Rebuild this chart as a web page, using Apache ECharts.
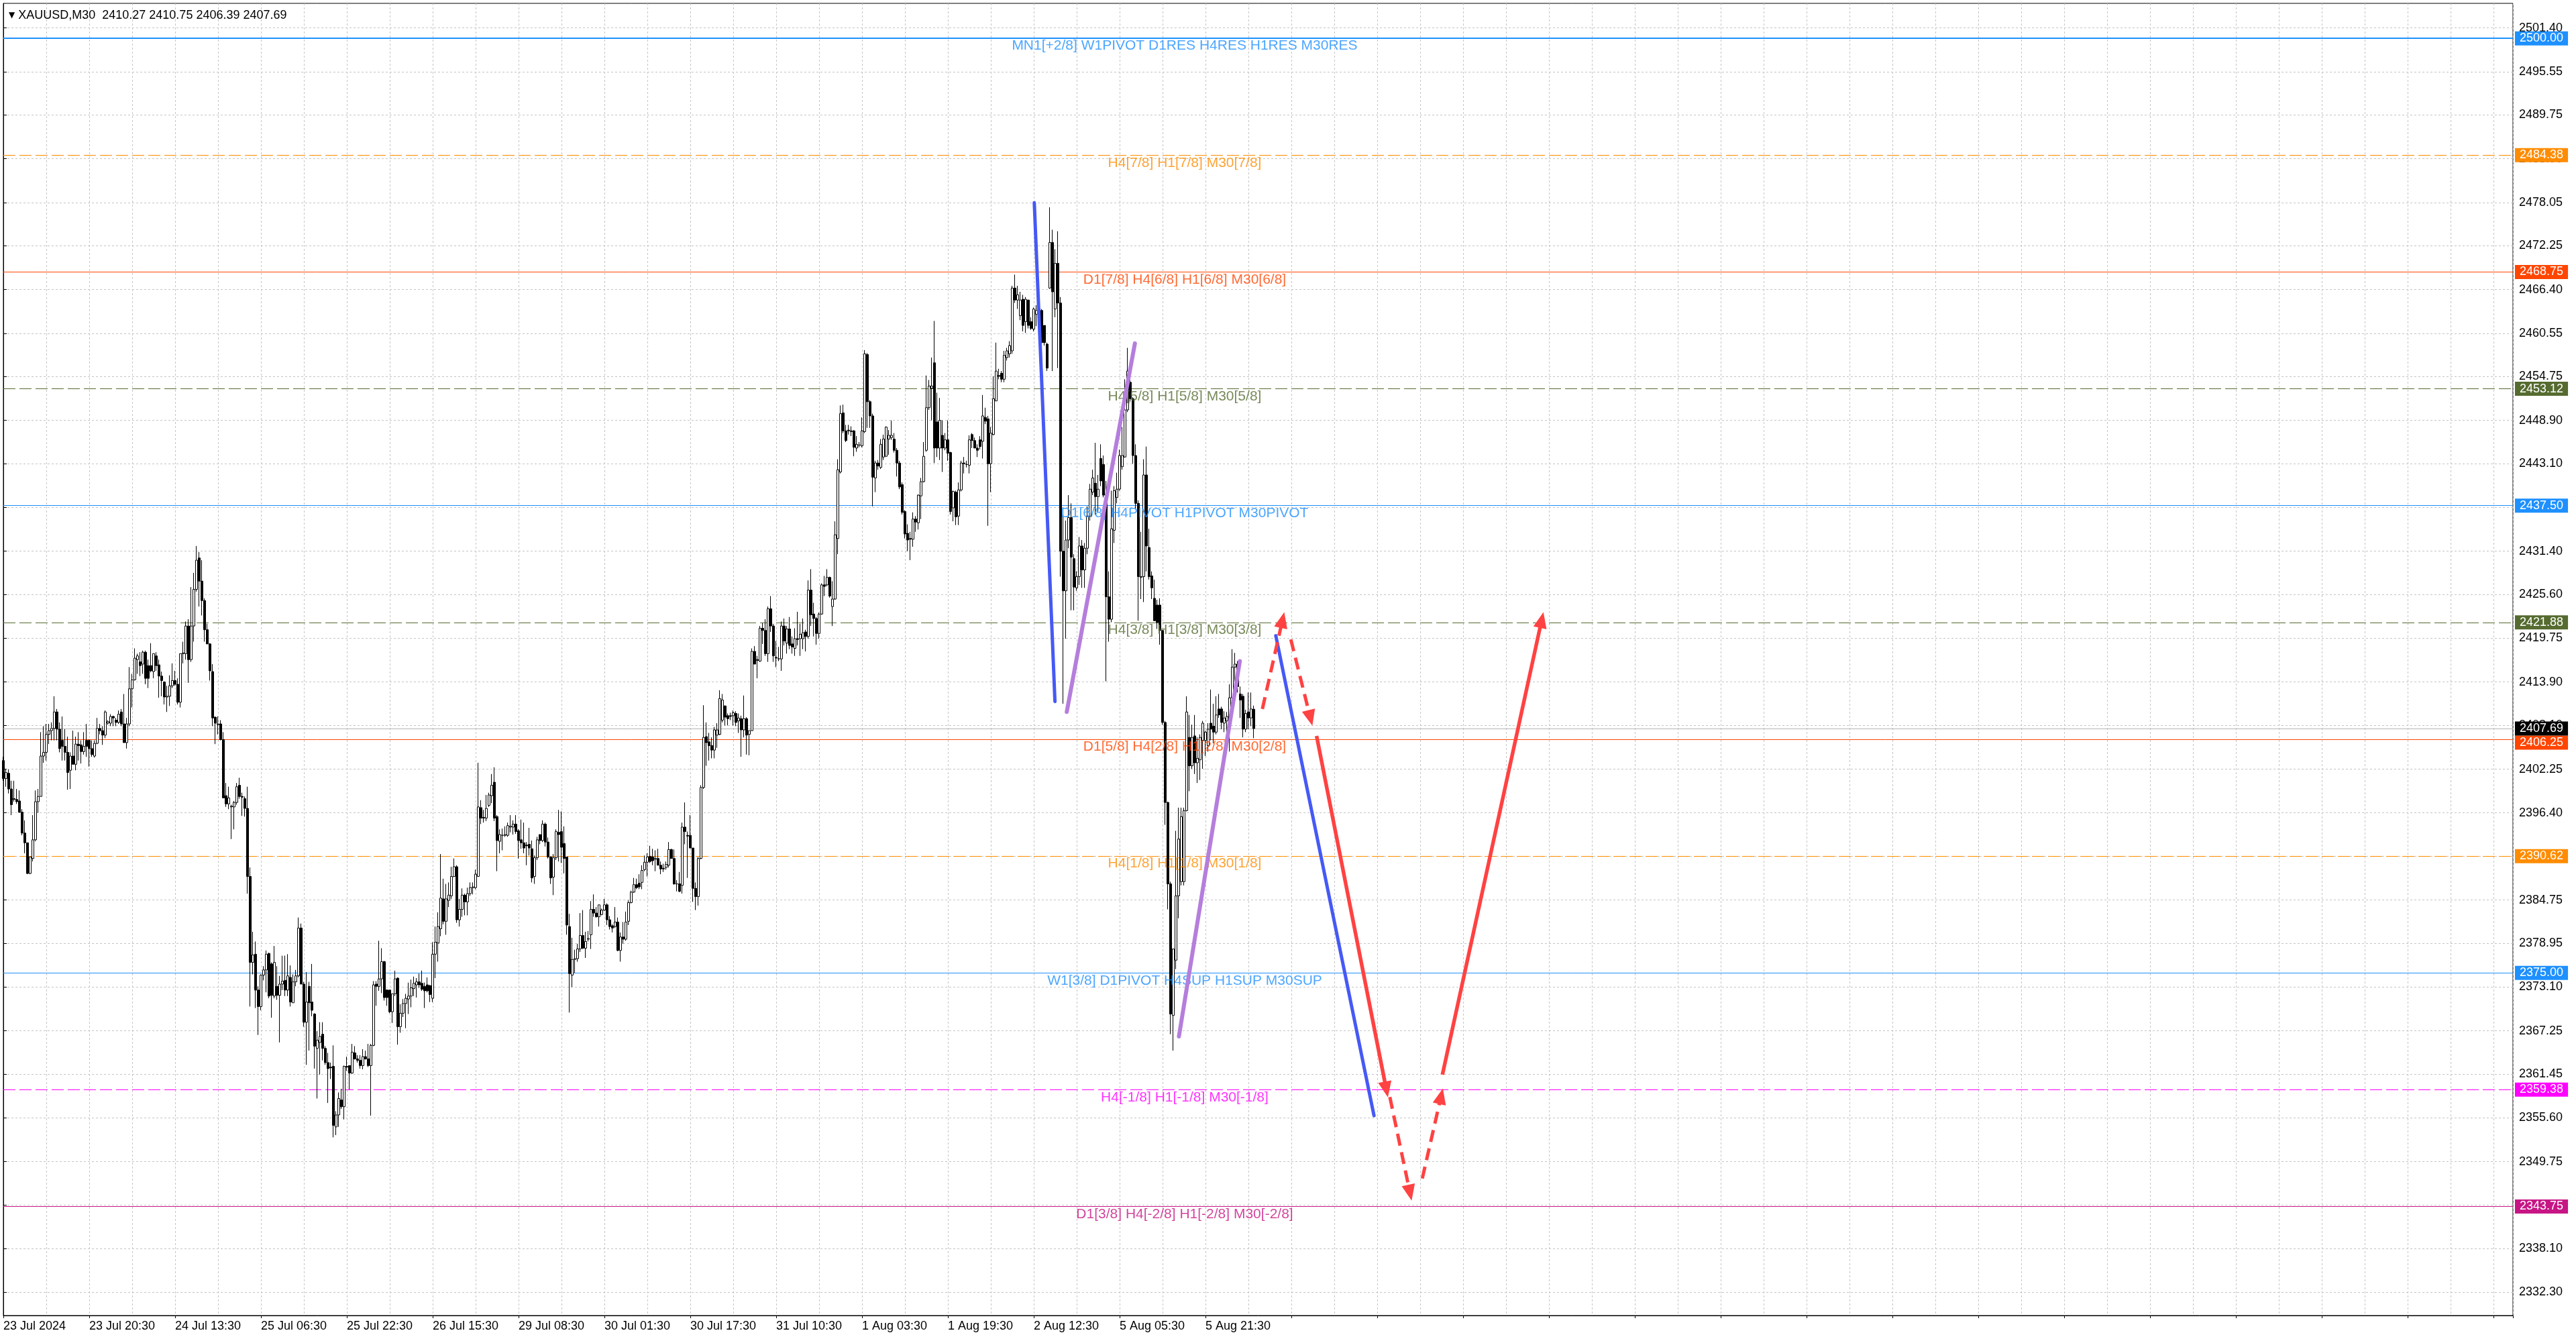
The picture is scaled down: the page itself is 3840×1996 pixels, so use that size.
<!DOCTYPE html>
<html>
<head>
<meta charset="utf-8">
<title>XAUUSD,M30</title>
<script src="https://cdn.jsdelivr.net/npm/echarts@6/dist/echarts.min.js"></script>
<style>
  html, body { margin: 0; padding: 0; background: #fff; }
  #chart { width: 3840px; height: 1996px; }
</style>
</head>
<body>
<div id="chart"></div>
<script>
// ---- data (30 min bars, index 0 = 23 Jul) ----
const symbolName = 'XAUUSD,M30';

const opens = [
  2403.4, 2401.0, 2401.7, 2399.6, 2398.3, 2398.2, 2398.0, 2396.5, 2393.7, 2392.4,
  2388.3, 2390.3, 2392.8, 2397.9, 2398.6, 2404.0, 2404.5, 2406.9, 2407.4, 2407.7,
  2409.9, 2407.6, 2406.1, 2405.3, 2404.5, 2402.1, 2404.0, 2402.9, 2405.6, 2405.5,
  2404.6, 2406.1, 2406.1, 2405.0, 2404.0, 2405.7, 2407.7, 2407.4, 2406.8, 2408.4,
  2408.4, 2409.3, 2408.8, 2408.5, 2409.9, 2408.3, 2405.8, 2408.3, 2413.0, 2414.2,
  2416.9, 2416.6, 2416.3, 2417.9, 2416.1, 2416.1, 2415.3, 2417.4, 2416.2, 2414.7,
  2413.9, 2411.9, 2412.0, 2413.4, 2414.1, 2413.6, 2411.2, 2417.7, 2417.7, 2421.4,
  2416.9, 2421.4, 2426.3, 2430.5, 2427.4, 2424.8, 2420.9, 2419.0, 2415.3, 2409.2,
  2408.2, 2408.3, 2406.2, 2398.7, 2397.6, 2397.2, 2397.2, 2397.8, 2400.1, 2398.6,
  2398.3, 2397.0, 2387.9, 2376.4, 2377.5, 2372.7, 2370.5, 2374.7, 2375.4, 2377.6,
  2376.2, 2371.9, 2373.2, 2372.0, 2373.5, 2374.0, 2372.7, 2374.4, 2371.0, 2373.8,
  2374.6, 2381.0, 2373.5, 2368.4, 2373.2, 2371.1, 2369.5, 2364.9, 2365.7, 2366.8,
  2364.9, 2363.0, 2362.4, 2362.5, 2354.4, 2356.0, 2358.0, 2357.1, 2362.5,
  2362.6, 2361.6, 2364.3, 2363.5, 2363.3, 2362.6, 2363.8, 2363.5, 2362.6, 2365.3,
  2373.5, 2373.2, 2374.2, 2376.5, 2372.7, 2372.7, 2369.8, 2372.2, 2374.3, 2367.8,
  2369.6, 2370.9, 2371.5, 2371.9, 2372.9, 2373.4, 2373.8, 2373.6, 2373.2, 2373.4,
  2373.3, 2371.6, 2377.5, 2379.0, 2380.9, 2384.9, 2381.9, 2384.7, 2385.3, 2387.9,
  2389.2, 2382.1, 2383.5, 2385.4, 2384.5, 2385.6, 2386.4, 2386.4, 2387.9, 2397.1,
  2395.8, 2395.7, 2397.4, 2398.7, 2400.5, 2395.9, 2392.6, 2393.4, 2393.4, 2393.4,
  2394.5, 2394.5, 2394.9, 2394.0, 2392.8, 2392.4, 2392.1, 2392.2, 2391.6, 2387.9,
  2390.4, 2393.5, 2392.7, 2394.9, 2392.5, 2390.5, 2387.8, 2390.4, 2393.8, 2393.9,
  2392.3, 2390.5, 2381.2, 2374.7, 2376.8, 2376.9, 2378.2, 2380.0, 2378.3, 2379.5,
  2380.1, 2383.5, 2383.0, 2382.5, 2382.8, 2383.4, 2384.1, 2382.1, 2381.3, 2381.2,
  2381.8, 2378.0, 2379.8, 2379.5, 2381.9, 2384.4, 2385.8, 2386.8, 2387.0, 2387.1,
  2388.8, 2389.8, 2390.6, 2390.5, 2390.2, 2390.3, 2389.4,
  2389.0, 2389.1, 2389.4, 2391.5, 2390.3, 2386.9, 2386.9, 2386.7, 2394.5, 2393.4,
  2393.4, 2391.7, 2386.3, 2385.2, 2390.3, 2399.8, 2406.6, 2405.9, 2405.4, 2404.8,
  2406.8, 2406.9, 2408.8, 2410.7, 2409.4, 2409.4, 2409.4, 2409.7, 2408.7, 2409.0,
  2407.5, 2409.0, 2406.9, 2407.4, 2418.0, 2416.9, 2416.7, 2421.1, 2420.8, 2417.7,
  2423.7, 2421.4, 2417.2, 2417.0, 2417.0, 2421.4, 2419.1, 2421.0, 2419.0, 2418.4,
  2419.7, 2419.7, 2419.7, 2420.6, 2420.0, 2426.2, 2423.0, 2422.4, 2420.4, 2423.0,
  2426.9, 2426.9, 2427.9, 2424.0, 2425.0, 2433.1, 2442.0, 2449.9, 2447.5, 2447.6,
  2447.5, 2447.5, 2445.2, 2445.6, 2445.5, 2447.4, 2457.7, 2451.4, 2449.5, 2441.2,
  2443.2, 2442.6, 2444.0, 2444.1, 2446.4, 2446.6, 2446.4, 2444.9, 2443.2, 2440.3,
  2436.7, 2433.8, 2433.1, 2433.0, 2435.7, 2435.2, 2438.8, 2440.7, 2444.9, 2450.6,
  2453.2, 2456.6, 2448.7, 2445.2, 2446.9, 2445.2, 2446.3, 2444.6, 2437.2, 2439.3,
  2436.1, 2439.6, 2443.2, 2443.0, 2442.9, 2447.0, 2446.2, 2445.2,
  2446.3, 2446.1, 2449.3, 2449.1, 2443.1, 2447.0, 2451.5, 2454.9, 2455.2, 2454.4,
  2457.3, 2457.8, 2458.2, 2466.6, 2465.0, 2462.9, 2465.1, 2462.1, 2465.0, 2462.1,
  2461.1, 2463.1, 2463.8, 2463.6, 2461.6, 2459.1, 2466.6, 2472.7, 2463.8, 2469.9,
  2464.6, 2431.4, 2426.1, 2432.9, 2435.9, 2430.4, 2426.5, 2428.0, 2432.1, 2428.9,
  2431.8, 2436.1, 2439.3, 2440.5, 2438.7, 2443.8, 2443.0, 2438.9, 2425.3, 2422.3,
  2434.2, 2438.6, 2439.7, 2442.7, 2444.0, 2450.3, 2454.0, 2451.8, 2444.2, 2437.8,
  2427.9, 2428.0, 2441.6, 2431.9, 2428.1, 2425.1, 2424.2, 2424.2, 2420.8, 2408.5,
  2397.8, 2386.9, 2369.3, 2376.7, 2385.3, 2387.2, 2387.2, 2396.7, 2406.5, 2402.7,
  2406.7, 2403.1, 2403.5, 2406.1, 2406.1, 2405.4, 2408.4, 2408.0, 2407.2, 2410.3,
  2410.3, 2408.4, 2408.7, 2408.7, 2411.8, 2415.9, 2416.3, 2412.3, 2412.0, 2407.6,
  2409.9, 2409.1, 2410.27
];

const highs = [
  2403.9, 2402.3, 2402.2, 2400.7, 2400.7, 2399.6, 2399.4, 2396.9, 2395.4, 2392.4,
  2390.5, 2396.1, 2399.4, 2399.6, 2407.2, 2408.0, 2408.3, 2408.3, 2408.5, 2412.0,
  2410.3, 2408.5, 2409.3, 2407.6, 2406.6, 2404.5, 2407.4, 2406.6, 2407.2, 2406.1,
  2407.2, 2408.3, 2406.2, 2406.1, 2406.1, 2409.1, 2408.3, 2408.0, 2410.1, 2408.8,
  2409.6, 2409.4, 2409.1, 2410.1, 2410.3, 2412.3, 2409.1, 2415.9, 2415.0, 2418.4,
  2417.7, 2417.9, 2418.1, 2418.1, 2416.9, 2419.1, 2417.7, 2417.9, 2416.9, 2415.3,
  2414.0, 2413.4, 2414.8, 2416.4, 2415.4, 2414.4, 2417.7, 2419.3, 2422.0, 2422.3,
  2426.6, 2428.5, 2432.1, 2431.3, 2430.2, 2425.1, 2421.7, 2419.1, 2416.3, 2409.3,
  2409.3, 2408.8, 2407.2, 2400.4, 2399.9, 2397.5, 2398.0, 2400.4, 2401.1, 2399.1,
  2398.6, 2399.9, 2389.1, 2380.5, 2379.2, 2373.2, 2374.8, 2375.9, 2378.0, 2377.7,
  2376.4, 2378.6, 2375.9, 2374.6, 2377.3, 2377.3, 2377.5, 2376.0, 2374.8, 2375.4,
  2382.4, 2381.6, 2373.8, 2375.1, 2373.8, 2376.2, 2369.6, 2367.2, 2368.4, 2368.4,
  2365.2, 2364.3, 2363.0, 2365.3, 2356.5, 2359.0, 2359.5, 2362.6, 2363.8,
  2362.6, 2365.5, 2365.2, 2364.0, 2364.0, 2364.8, 2364.6, 2365.5, 2365.5, 2373.9,
  2373.9, 2379.3, 2378.3, 2376.6, 2372.8, 2372.7, 2372.2, 2375.3, 2374.4, 2370.8,
  2371.5, 2372.2, 2373.7, 2374.1, 2374.5, 2374.3, 2374.9, 2375.3, 2373.7, 2374.4,
  2373.4, 2379.1, 2381.2, 2383.1, 2390.9, 2387.6, 2386.9, 2387.1, 2389.2, 2390.3,
  2389.4, 2384.9, 2386.3, 2385.6, 2386.4, 2387.1, 2387.1, 2388.8, 2403.1, 2398.1,
  2396.8, 2398.8, 2399.1, 2401.6, 2402.5, 2396.1, 2394.2, 2394.3, 2394.6, 2395.1,
  2396.1, 2395.4, 2396.1, 2394.2, 2395.5, 2395.1, 2392.5, 2394.4, 2392.7, 2390.7,
  2393.2, 2393.5, 2395.4, 2395.1, 2393.1, 2390.6, 2390.9, 2394.2, 2396.8, 2396.6,
  2394.6, 2390.5, 2382.9, 2379.7, 2378.1, 2378.9, 2383.0, 2383.4, 2380.5, 2380.6,
  2384.6, 2385.5, 2383.8, 2384.1, 2383.6, 2384.9, 2384.3, 2382.6, 2381.5, 2383.8,
  2382.4, 2380.4, 2381.8, 2383.2, 2384.7, 2386.0, 2387.7, 2387.6, 2388.2, 2389.4,
  2390.7, 2391.0, 2392.0, 2391.6, 2391.4, 2391.6, 2389.9,
  2389.6, 2389.9, 2392.5, 2391.6, 2391.5, 2387.4, 2388.5, 2395.1, 2397.8, 2393.9,
  2396.1, 2391.7, 2387.1, 2390.5, 2400.1, 2410.8, 2408.5, 2407.1, 2406.5, 2407.9,
  2408.4, 2412.8, 2412.3, 2410.8, 2409.7, 2409.8, 2410.1, 2410.0, 2409.7, 2409.4,
  2412.1, 2409.2, 2407.4, 2418.4, 2418.7, 2417.4, 2421.4, 2421.8, 2422.3, 2424.0,
  2425.4, 2421.7, 2419.4, 2418.6, 2422.0, 2422.4, 2421.4, 2422.6, 2420.0, 2421.1,
  2423.3, 2421.7, 2422.4, 2420.9, 2427.5, 2429.0, 2424.5, 2422.6, 2423.2, 2427.1,
  2428.1, 2429.0, 2428.0, 2427.4, 2435.4, 2443.7, 2450.9, 2451.0, 2448.3, 2448.3,
  2448.1, 2447.6, 2446.8, 2446.0, 2449.3, 2458.3, 2457.9, 2451.6, 2449.8, 2443.5,
  2443.6, 2446.4, 2447.0, 2448.1, 2447.6, 2448.9, 2447.2, 2445.2, 2443.5, 2440.6,
  2436.9, 2435.0, 2434.0, 2436.6, 2436.1, 2439.0, 2441.2, 2446.0, 2454.9, 2454.3,
  2457.3, 2462.2, 2452.6, 2451.9, 2448.9, 2447.2, 2448.9, 2444.7, 2439.5, 2439.5,
  2440.6, 2443.5, 2444.0, 2443.5, 2446.9, 2447.2, 2446.6, 2445.7,
  2446.8, 2452.3, 2450.6, 2449.5, 2448.0, 2454.8, 2459.3, 2455.8, 2455.5, 2458.2,
  2458.6, 2459.5, 2466.9, 2468.4, 2466.9, 2466.1, 2465.7, 2465.4, 2465.0, 2462.7,
  2464.0, 2464.3, 2464.2, 2463.8, 2461.6, 2459.3, 2477.4, 2474.4, 2471.8, 2474.2,
  2465.4, 2436.3, 2435.5, 2438.9, 2437.8, 2431.0, 2428.7, 2433.3, 2432.9, 2432.5,
  2437.4, 2440.4, 2442.3, 2445.9, 2441.6, 2445.7, 2444.2, 2440.8, 2428.7, 2439.5,
  2440.1, 2441.9, 2445.0, 2448.0, 2454.4, 2458.6, 2454.8, 2452.0, 2445.7, 2438.2,
  2434.0, 2443.7, 2445.4, 2434.4, 2428.7, 2427.6, 2424.9, 2425.1, 2420.8, 2408.7,
  2397.9, 2387.2, 2378.2, 2394.0, 2397.1, 2397.1, 2397.1, 2412.0, 2409.5, 2408.2,
  2409.5, 2406.5, 2406.9, 2408.7, 2407.4, 2408.4, 2412.9, 2411.0, 2412.0, 2412.3,
  2410.6, 2410.0, 2409.9, 2413.6, 2418.3, 2417.8, 2416.7, 2413.3, 2412.3, 2410.2,
  2412.5, 2412.5, 2410.75
];

const lows = [
  2400.7, 2399.9, 2399.0, 2396.1, 2397.9, 2397.6, 2396.4, 2393.4, 2391.0, 2388.2,
  2388.2, 2389.9, 2392.6, 2396.4, 2398.6, 2403.1, 2403.4, 2405.6, 2406.1, 2406.1,
  2406.1, 2404.5, 2403.4, 2403.4, 2399.5, 2399.6, 2402.9, 2402.1, 2403.4, 2403.0,
  2404.2, 2403.9, 2402.6, 2403.9, 2403.8, 2405.6, 2406.9, 2405.5, 2406.4, 2408.2,
  2408.0, 2408.0, 2408.0, 2408.3, 2408.0, 2405.8, 2405.0, 2408.0, 2410.5, 2414.1,
  2415.0, 2414.7, 2415.0, 2413.6, 2413.1, 2415.2, 2414.4, 2415.4, 2411.8, 2412.0,
  2410.9, 2409.9, 2410.7, 2413.1, 2413.4, 2410.9, 2410.5, 2416.4, 2416.9, 2413.8,
  2416.6, 2419.3, 2426.0, 2424.0, 2422.8, 2419.3, 2419.0, 2414.1, 2408.0, 2405.6,
  2406.9, 2406.1, 2398.4, 2397.2, 2396.9, 2392.9, 2394.2, 2397.5, 2398.3, 2396.0,
  2395.9, 2385.6, 2370.5, 2374.8, 2370.3, 2366.7, 2370.0, 2374.0, 2372.4, 2371.6,
  2369.0, 2371.6, 2371.4, 2365.7, 2372.7, 2371.9, 2371.9, 2370.5, 2371.0, 2373.2,
  2374.4, 2373.5, 2367.8, 2362.7, 2364.6, 2369.2, 2362.2, 2358.2, 2361.4, 2363.3,
  2362.7, 2357.6, 2360.8, 2353.0, 2353.3, 2354.4, 2356.8, 2355.4, 2361.9,
  2359.4, 2361.5, 2363.4, 2363.0, 2362.2, 2362.1, 2363.4, 2362.4, 2355.9, 2365.2,
  2370.6, 2372.6, 2372.3, 2371.3, 2370.6, 2369.6, 2368.3, 2371.9, 2365.4, 2367.0,
  2369.1, 2367.6, 2369.5, 2370.4, 2371.9, 2371.7, 2373.0, 2372.6, 2370.3, 2372.4,
  2371.1, 2371.1, 2374.3, 2376.5, 2379.9, 2381.5, 2380.1, 2383.8, 2384.9, 2387.8,
  2381.7, 2381.2, 2382.5, 2382.7, 2382.7, 2385.3, 2385.5, 2386.2, 2387.9, 2394.9,
  2395.1, 2395.3, 2397.2, 2397.7, 2395.3, 2388.6, 2391.0, 2391.4, 2393.2, 2393.2,
  2393.8, 2393.5, 2393.6, 2390.3, 2391.6, 2391.0, 2389.4, 2390.7, 2387.1, 2386.9,
  2390.1, 2392.2, 2392.5, 2391.9, 2390.3, 2386.9, 2385.4, 2390.1, 2389.9, 2389.7,
  2388.3, 2380.1, 2369.7, 2373.1, 2375.0, 2376.5, 2377.8, 2378.2, 2377.0, 2379.2,
  2378.2, 2382.5, 2382.4, 2381.2, 2382.7, 2383.3, 2381.4, 2380.8, 2380.4, 2381.0,
  2377.9, 2376.5, 2378.9, 2379.3, 2381.4, 2384.3, 2385.7, 2386.2, 2386.2, 2386.2,
  2388.6, 2387.9, 2389.7, 2389.4, 2388.6, 2389.4, 2388.2,
  2388.5, 2388.8, 2389.1, 2390.3, 2386.8, 2385.9, 2385.8, 2385.6, 2392.2, 2387.7,
  2391.7, 2384.5, 2383.4, 2384.0, 2390.2, 2399.6, 2402.7, 2403.4, 2403.7, 2403.7,
  2405.1, 2406.8, 2408.5, 2408.1, 2408.1, 2408.8, 2408.1, 2408.0, 2407.1, 2403.9,
  2406.5, 2404.2, 2404.1, 2407.4, 2416.3, 2414.4, 2416.6, 2419.0, 2417.4, 2416.6,
  2420.6, 2416.6, 2415.9, 2416.7, 2415.4, 2418.8, 2417.7, 2418.3, 2417.7, 2417.4,
  2418.8, 2417.4, 2418.3, 2418.0, 2419.7, 2421.4, 2420.0, 2418.9, 2419.7, 2422.9,
  2425.4, 2426.7, 2425.2, 2421.4, 2424.9, 2431.0, 2441.8, 2447.2, 2446.0, 2447.0,
  2446.8, 2444.1, 2444.7, 2445.3, 2445.3, 2447.2, 2447.9, 2447.9, 2437.4, 2439.3,
  2442.3, 2442.4, 2443.6, 2444.0, 2444.3, 2446.3, 2444.6, 2441.4, 2439.7, 2436.3,
  2433.1, 2431.4, 2430.2, 2432.0, 2434.0, 2434.3, 2435.7, 2440.6, 2444.7, 2450.3,
  2448.9, 2443.2, 2444.0, 2443.6, 2442.0, 2444.9, 2443.5, 2436.3, 2435.4, 2434.9,
  2434.9, 2439.4, 2441.8, 2442.6, 2441.8, 2445.2, 2445.2, 2444.0,
  2445.0, 2443.8, 2448.4, 2434.8, 2439.3, 2446.9, 2451.5, 2454.4, 2454.0, 2454.0,
  2456.9, 2457.3, 2457.8, 2464.6, 2463.8, 2462.3, 2460.8, 2460.6, 2461.2, 2461.0,
  2460.8, 2461.5, 2460.8, 2459.1, 2458.9, 2455.5, 2466.5, 2455.5, 2462.7, 2455.9,
  2428.0, 2411.0, 2419.7, 2431.8, 2423.5, 2423.5, 2426.1, 2426.9, 2426.5, 2426.5,
  2431.0, 2435.5, 2438.9, 2436.3, 2436.7, 2440.1, 2438.6, 2414.0, 2419.3, 2421.9,
  2432.5, 2437.8, 2439.5, 2442.3, 2443.9, 2450.0, 2451.4, 2443.1, 2437.1, 2422.1,
  2425.0, 2424.6, 2428.7, 2427.6, 2425.0, 2422.1, 2421.0, 2418.9, 2408.2, 2394.8,
  2383.5, 2366.8, 2364.6, 2375.5, 2382.3, 2386.7, 2386.7, 2396.6, 2399.3, 2402.3,
  2401.6, 2400.4, 2400.8, 2402.3, 2404.0, 2404.6, 2406.1, 2405.7, 2406.9, 2409.1,
  2407.6, 2407.2, 2406.5, 2404.6, 2411.4, 2412.9, 2412.5, 2409.1, 2406.5, 2407.2,
  2407.6, 2408.0, 2406.39
];

const closes = [
  2401.0, 2401.8, 2399.6, 2397.5, 2398.2, 2397.9, 2396.5, 2393.7, 2392.4, 2388.3,
  2390.5, 2392.8, 2397.9, 2398.6, 2404.0, 2404.5, 2406.9, 2407.4, 2407.7, 2409.9,
  2407.6, 2405.0, 2405.3, 2404.5, 2401.8, 2404.0, 2402.9, 2405.6, 2405.4, 2404.6,
  2405.3, 2405.3, 2405.0, 2404.2, 2405.7, 2407.7, 2407.4, 2406.8, 2409.9, 2408.6,
  2409.3, 2409.1, 2408.5, 2409.6, 2408.3, 2405.8, 2408.3, 2413.0, 2414.2, 2417.1,
  2417.4, 2416.1, 2417.9, 2414.4, 2414.4, 2415.4, 2417.7, 2416.1, 2414.7, 2414.1,
  2411.9, 2412.0, 2413.4, 2414.1, 2413.6, 2411.2, 2417.7, 2417.8, 2421.4, 2416.9,
  2421.4, 2426.3, 2430.2, 2427.4, 2424.8, 2420.9, 2419.0, 2415.4, 2409.1, 2408.4,
  2408.3, 2406.2, 2398.4, 2397.6, 2398.4, 2397.3, 2397.8, 2399.9, 2398.6, 2398.5,
  2397.0, 2387.9, 2376.4, 2377.4, 2372.7, 2370.5, 2374.7, 2375.4, 2377.5, 2371.9,
  2372.0, 2376.4, 2372.0, 2373.5, 2373.9, 2372.7, 2374.6, 2371.1, 2373.8, 2374.6,
  2381.0, 2373.5, 2368.4, 2371.1, 2371.0, 2370.0, 2365.2, 2366.0, 2366.5, 2364.9,
  2363.0, 2362.2, 2362.3, 2354.6, 2356.0, 2358.2, 2357.1, 2362.5, 2362.4,
  2361.6, 2364.4, 2363.5, 2363.3, 2362.6, 2363.8, 2363.5, 2362.6, 2365.3, 2373.4,
  2373.2, 2374.2, 2376.5, 2371.7, 2371.7, 2369.8, 2372.2, 2374.2, 2367.8, 2369.6,
  2370.9, 2371.6, 2371.9, 2373.0, 2373.6, 2373.8, 2373.4, 2372.8, 2372.6, 2372.6,
  2372.1, 2377.5, 2379.1, 2381.2, 2385.0, 2381.9, 2384.9, 2385.4, 2387.9, 2389.2,
  2382.1, 2383.5, 2385.4, 2384.5, 2385.6, 2386.4, 2386.5, 2388.2, 2397.2, 2395.7,
  2395.7, 2397.0, 2398.8, 2400.1, 2395.7, 2392.7, 2393.5, 2393.4, 2393.5, 2394.7,
  2394.6, 2394.9, 2393.9, 2392.7, 2392.4, 2391.7, 2392.0, 2391.7, 2387.7, 2390.4,
  2392.8, 2392.7, 2394.9, 2392.5, 2390.5, 2387.7, 2390.4, 2393.9, 2393.5, 2391.8,
  2390.3, 2381.4, 2374.9, 2376.8, 2376.9, 2378.2, 2380.0, 2378.3, 2379.2, 2379.6,
  2383.5, 2383.0, 2382.5, 2384.1, 2383.4, 2384.1, 2382.1, 2381.2, 2381.0, 2381.8,
  2378.0, 2379.8, 2379.5, 2381.8, 2384.4, 2385.8, 2386.8, 2386.4, 2386.5, 2388.7,
  2389.8, 2390.5, 2389.9, 2390.0, 2390.3, 2389.4, 2388.9,
  2388.9, 2389.5, 2391.5, 2390.3, 2386.9, 2386.9, 2385.9, 2394.5, 2393.9, 2393.3,
  2391.7, 2386.3, 2385.2, 2390.3, 2399.8, 2406.5, 2405.8, 2405.4, 2404.8, 2407.5,
  2407.5, 2411.7, 2411.5, 2409.2, 2409.0, 2409.3, 2409.8, 2408.5, 2409.1, 2407.5,
  2409.0, 2406.8, 2407.4, 2418.0, 2416.3, 2416.8, 2421.1, 2420.8, 2417.7, 2423.7,
  2421.4, 2417.4, 2417.1, 2417.0, 2421.4, 2419.4, 2421.0, 2418.8, 2418.6, 2419.7,
  2419.6, 2420.3, 2420.5, 2420.0, 2426.2, 2422.9, 2422.4, 2420.4, 2423.0, 2426.9,
  2426.7, 2427.9, 2425.4, 2425.0, 2433.6, 2442.3, 2449.8, 2447.5, 2446.2, 2447.5,
  2447.4, 2445.3, 2445.7, 2445.6, 2447.5, 2457.8, 2451.4, 2449.5, 2441.3, 2443.2,
  2442.8, 2445.7, 2446.4, 2448.0, 2446.9, 2446.9, 2444.9, 2443.2, 2440.0, 2436.6,
  2433.7, 2432.9, 2433.0, 2435.7, 2435.3, 2438.9, 2440.7, 2444.1, 2450.6, 2453.5,
  2453.5, 2445.2, 2445.2, 2448.9, 2445.2, 2446.3, 2444.5, 2436.7, 2439.4, 2436.0,
  2439.6, 2443.2, 2443.1, 2443.0, 2446.3, 2446.2, 2445.2, 2444.9,
  2445.4, 2449.5, 2448.8, 2443.1, 2447.2, 2451.8, 2455.5, 2454.8, 2454.4, 2457.6,
  2458.2, 2458.9, 2466.6, 2465.0, 2465.7, 2465.0, 2461.6, 2465.1, 2461.6, 2461.2,
  2463.8, 2463.6, 2462.3, 2459.3, 2459.3, 2455.9, 2472.7, 2466.1, 2469.9, 2464.6,
  2431.4, 2426.1, 2432.9, 2435.9, 2430.6, 2426.6, 2428.0, 2432.1, 2428.9, 2431.8,
  2436.1, 2439.7, 2441.2, 2438.7, 2439.7, 2440.8, 2438.9, 2425.3, 2422.3, 2434.4,
  2439.5, 2439.7, 2444.2, 2444.2, 2450.3, 2455.5, 2451.8, 2444.2, 2437.8, 2428.0,
  2428.0, 2441.6, 2432.1, 2428.0, 2426.5, 2422.1, 2421.9, 2420.8, 2408.5, 2397.8,
  2386.9, 2369.5, 2378.2, 2385.3, 2392.9, 2395.9, 2396.7, 2409.9, 2402.7, 2406.5,
  2403.1, 2403.7, 2406.5, 2408.4, 2407.2, 2407.6, 2407.6, 2407.2, 2409.5, 2409.5,
  2408.5, 2409.1, 2409.3, 2411.8, 2415.9, 2416.3, 2413.3, 2411.5, 2407.6, 2409.7,
  2409.1, 2410.3, 2407.69
];

// one label every 32 bars
const timeLabels = [
  '23 Jul 2024', '23 Jul 20:30', '24 Jul 13:30', '25 Jul 06:30', '25 Jul 22:30',
  '26 Jul 15:30', '29 Jul 08:30', '30 Jul 01:30', '30 Jul 17:30', '31 Jul 10:30',
  '1 Aug 03:30', '1 Aug 19:30', '2 Aug 12:30', '5 Aug 05:30', '5 Aug 21:30'
];

const priceTicks = [
  2501.40, 2495.55, 2489.75, 2483.90, 2478.05, 2472.25, 2466.40, 2460.55, 2454.75, 2448.90,
  2443.10, 2437.25, 2431.40, 2425.60, 2419.75, 2413.90, 2408.10, 2402.25, 2396.40, 2390.60,
  2384.75, 2378.95, 2373.10, 2367.25, 2361.45, 2355.60, 2349.75, 2343.95, 2338.10, 2332.30
];

const levels = [2500.00, 2484.38, 2468.75, 2453.12, 2437.50, 2421.88, 2406.25, 2390.62, 2375.00, 2359.38, 2343.75];
const levelTexts = [
  'MN1[+2/8] W1PIVOT D1RES H4RES H1RES M30RES',
  'H4[7/8] H1[7/8] M30[7/8]',
  'D1[7/8] H4[6/8] H1[6/8] M30[6/8]',
  'H4[5/8] H1[5/8] M30[5/8]',
  'D1[6/8] H4PIVOT H1PIVOT M30PIVOT',
  'H4[3/8] H1[3/8] M30[3/8]',
  'D1[5/8] H4[2/8] H1[2/8] M30[2/8]',
  'H4[1/8] H1[1/8] M30[1/8]',
  'W1[3/8] D1PIVOT H4SUP H1SUP M30SUP',
  'H4[-1/8] H1[-1/8] M30[-1/8]',
  'D1[3/8] H4[-2/8] H1[-2/8] M30[-2/8]'
];
const currentPrice = 2407.69;

// drawn segments: [barFrom, priceFrom, barTo, priceTo]
const trendLines = [
  [384.2, 2478.0, 391.9, 2411.3],
  [396.3, 2409.9, 421.7, 2459.2],
  [438.1, 2366.5, 460.8, 2416.7],
  [474.2, 2420.1, 510.8, 2355.9],
  [469.2, 2410.3, 476.7, 2422.2],
  [479.8, 2419.6, 487.1, 2409.1],
  [489.4, 2406.7, 515.4, 2359.4],
  [516.7, 2358.4, 524.2, 2345.6],
  [528.8, 2347.5, 535.8, 2358.5],
  [536.3, 2361.4, 573.3, 2422.2]
];

// ---- styling / layout ----
const FONT = 'Liberation Sans';
const LABEL_BAR = 440.25;          // horizontal centre of the level captions
const X_MAX = 935.25;              // bars that fit in the plot width
const Y_MIN = 2329.17, Y_MAX = 2504.68;
const GRID_COLOR = '#c4c4c4';

const DASH = [18, 6];
const LEVEL_STYLE = [
  { color: '#1E90FF', type: 'solid', width: 2 },
  { color: '#FF8C00', type: DASH, width: 1 },
  { color: '#FF4500', type: 'solid', width: 1 },
  { color: '#556B2F', type: DASH, width: 1 },
  { color: '#1E90FF', type: 'solid', width: 1 },
  { color: '#556B2F', type: DASH, width: 1 },
  { color: '#FF4500', type: 'solid', width: 1, shift: 5 },
  { color: '#FF8C00', type: DASH, width: 1 },
  { color: '#1E90FF', type: 'solid', width: 1 },
  { color: '#FF00FF', type: DASH, width: 1 },
  { color: '#C71585', type: 'solid', width: 1 }
];

const BLUE = '#4659F5', PURPLE = '#B57EDC', RED = '#FF4242';
const RED_DASH = [18, 10];
const TREND_STYLE = [
  { color: BLUE, width: 5, type: 'solid', arrow: false },
  { color: PURPLE, width: 6, type: 'solid', arrow: false },
  { color: PURPLE, width: 6, type: 'solid', arrow: false },
  { color: BLUE, width: 5, type: 'solid', arrow: false },
  { color: RED, width: 5, type: RED_DASH, arrow: true },
  { color: RED, width: 5, type: RED_DASH, arrow: true },
  { color: RED, width: 5.5, type: 'solid', arrow: true },
  { color: RED, width: 5, type: RED_DASH, arrow: true },
  { color: RED, width: 5, type: RED_DASH, arrow: true },
  { color: RED, width: 5.5, type: 'solid', arrow: true }
];

const candles = opens.map((o, i) => [i, o, closes[i], lows[i], highs[i]]);
const last = opens.length - 1;
const header = symbolName + '  ' + [opens[last], highs[last], lows[last], closes[last]]
  .map(v => v.toFixed(2)).join(' ');

const levelLineData = levels.map((v, i) => ({
  yAxis: v,
  lineStyle: { color: LEVEL_STYLE[i].color, type: LEVEL_STYLE[i].type, width: LEVEL_STYLE[i].width },
  label: { backgroundColor: LEVEL_STYLE[i].color, offset: [0, LEVEL_STYLE[i].shift || 0] }
}));
levelLineData.push({
  yAxis: currentPrice,
  lineStyle: { color: '#b4b4b4', type: 'solid', width: 1 },
  label: { backgroundColor: '#000' }
});

const trendData = trendLines.map((s, i) => {
  const st = TREND_STYLE[i];
  return [
    { coord: [s[0], s[1]], symbol: 'none',
      lineStyle: { color: st.color, width: st.width, type: st.type, cap: st.arrow ? 'butt' : 'round', opacity: 1 } },
    { coord: [s[2], s[3]], symbol: st.arrow ? 'triangle' : 'none', symbolSize: [20, 24] }
  ];
});

const chart = echarts.init(document.getElementById('chart'));

chart.setOption({
  animation: false,
  backgroundColor: '#fff',
  title: {
    text: '{tri|▼} ' + header,
    left: 8,
    top: 9,
    textStyle: {
      fontFamily: FONT, fontSize: 18, fontWeight: 'normal', color: '#000',
      rich: { tri: { fontFamily: 'DejaVu Sans', fontSize: 12, color: '#000' } }
    }
  },
  grid: {
    left: 5, right: 94, top: 5, bottom: 35,
    show: true, borderColor: '#000', borderWidth: 1, backgroundColor: 'transparent'
  },
  xAxis: [
    {
      type: 'value', min: 0, max: X_MAX, interval: 16,
      axisLine: { show: false }, axisTick: { show: false }, axisLabel: { show: false },
      splitLine: { show: true, lineStyle: { color: GRID_COLOR, type: [3, 3], width: 1 } }
    },
    {
      type: 'value', min: 0, max: X_MAX, interval: 32, position: 'bottom',
      axisLine: { show: true, lineStyle: { color: '#000', width: 1 } },
      axisTick: { show: true, length: 4, lineStyle: { color: '#000' } },
      splitLine: { show: false },
      axisLabel: {
        align: 'left', margin: 7, fontFamily: FONT, fontSize: 18, color: '#000',
        formatter: v => (v % 32 === 0 && timeLabels[v / 32]) || ''
      }
    }
  ],
  yAxis: {
    type: 'value', position: 'right', min: Y_MIN, max: Y_MAX,
    splitLine: { show: false },
    axisLine: { show: true, lineStyle: { color: '#000' } },
    axisTick: { show: true, length: 5, customValues: priceTicks, lineStyle: { color: '#000' } },
    axisLabel: {
      customValues: priceTicks, margin: 9, fontFamily: FONT, fontSize: 18, color: '#000',
      formatter: v => Number(v).toFixed(2)
    }
  },
  series: [
    {
      // horizontal grid lines on the price ticks
      type: 'line', data: [], silent: true, z: 0,
      markLine: {
        z: 0, silent: true, symbol: ['none', 'none'], label: { show: false },
        lineStyle: { color: GRID_COLOR, type: [3, 3], width: 1 },
        data: priceTicks.map(v => ({ yAxis: v }))
      }
    },
    {
      // level lines and their price badges
      type: 'line', data: [], silent: true, z: 1,
      markLine: {
        z: 1, silent: true, symbol: ['none', 'none'],
        label: {
          show: true, position: 'end', distance: 3,
          formatter: p => Number(p.value).toFixed(2),
          color: '#fff', fontFamily: FONT, fontSize: 18, lineHeight: 18,
          padding: [2, 7, 1, 7]
        },
        data: levelLineData
      }
    },
    {
      type: 'candlestick', name: symbolName, z: 2, clip: true,
      data: candles,
      encode: { x: 0, y: [1, 2, 3, 4] },
      barWidth: 2.6,
      itemStyle: {
        color: '#fff', color0: '#000',
        borderColor: '#000', borderColor0: '#000', borderWidth: 1
      }
    },
    {
      // level captions
      type: 'scatter', z: 3, silent: true, symbolSize: 0,
      data: levels.map((v, i) => ({
        name: levelTexts[i], value: [LABEL_BAR, v],
        label: { color: LEVEL_STYLE[i].color }
      })),
      label: {
        show: true, position: 'bottom', distance: 1, formatter: '{b}',
        fontFamily: FONT, fontSize: 21
      }
    },
    {
      // hand-drawn wave lines and arrows
      type: 'line', data: [], silent: true, z: 4,
      markLine: {
        z: 4, silent: true, label: { show: false },
        data: trendData
      }
    }
  ]
});
</script>
</body>
</html>
